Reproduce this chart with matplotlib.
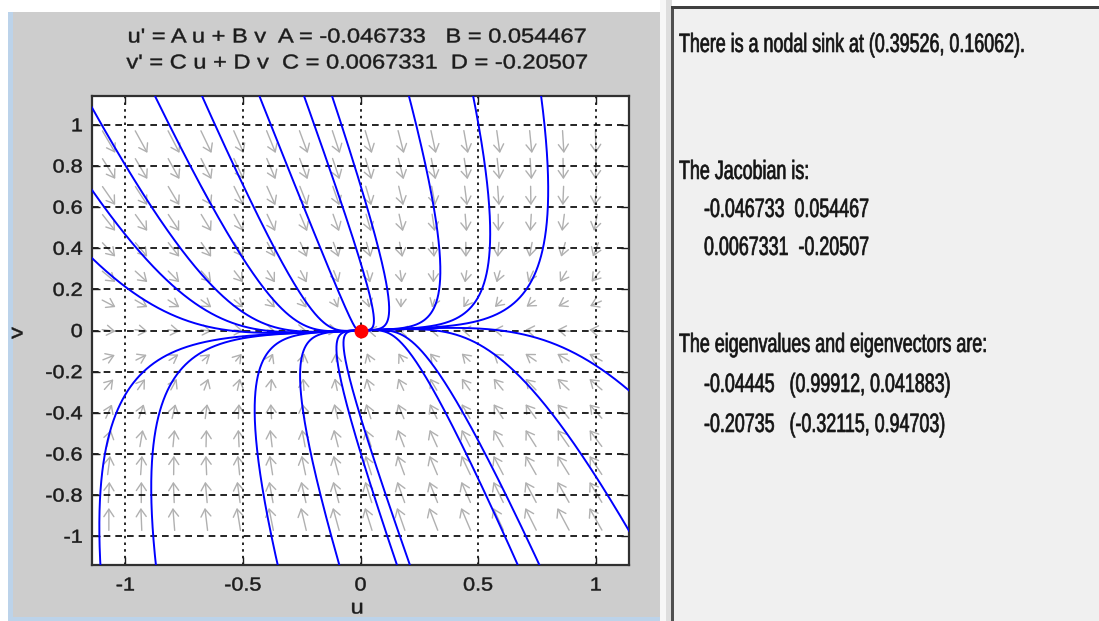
import numpy as np
import matplotlib.pyplot as plt
from matplotlib.patches import Rectangle, FancyArrowPatch
from matplotlib.patheffects import AbstractPathEffect
from matplotlib.transforms import Affine2D

# linear system u' = A u + B v, v' = C u + D v
A, B, C, D = -0.046733, 0.054467, 0.0067331, -0.20507

# points on the window edge where the drawn solution curves enter
top_u = [-0.874, -0.674, -0.43, -0.24, -0.121, 0.206, 0.479, 0.768]
left_v = [1.08, 0.68, 0.35]
bottom_u = [-1.106, -0.87, -0.352, -0.09, 0.155, 0.21, 0.669, 0.761]
right_v = [-0.29, -0.97]

xticks = [-1, -0.5, 0, 0.5, 1]
yticks = [-1, -0.8, -0.6, -0.4, -0.2, 0, 0.2, 0.4, 0.6, 0.8, 1]
lim = 1.14

title_lines = ["u' = A u + B v  A = -0.046733   B = 0.054467",
               "v' = C u + D v  C = 0.0067331  D = -0.20507"]
sink_text = "There is a nodal sink at (0.39526, 0.16062)."
jac_rows = ["-0.046733  0.054467", "0.0067331  -0.20507"]
eig_rows = ["-0.04445   (0.99912, 0.041883)",
            "-0.20735   (-0.32115, 0.94703)"]


class Stretch(AbstractPathEffect):
    """Scale glyph outlines about a pivot and thicken them a little."""

    def __init__(self, sx, sy=1.0, pivot=0.0, stroke=0.0):
        super().__init__()
        self.sx, self.sy, self.pivot, self.stroke = sx, sy, pivot, stroke

    def draw_path(self, renderer, gc, tpath, affine, rgbFace=None):
        x0 = self.pivot * tpath.get_extents().x1 if self.pivot else 0.0
        y0 = 35.0  # about mid cap height, glyph paths use 100 units per em
        tr = (Affine2D().translate(-x0, -y0).scale(self.sx, self.sy)
              .translate(x0, y0) + affine)
        gc0 = renderer.new_gc()
        gc0.copy_properties(gc)
        if self.stroke:
            gc0.set_linewidth(self.stroke)
            gc0.set_foreground(rgbFace)
        renderer.draw_path(gc0, tpath, tr, rgbFace)
        gc0.restore()


W, H = 1099, 621
fig = plt.figure(figsize=(W / 100, H / 100), dpi=100)
plt.rcParams['font.family'] = ['Liberation Sans', 'DejaVu Sans']


def px(x, y):
    return x / W, 1 - y / H


def box(x0, y0, x1, y1, color):
    fig.add_artist(Rectangle(px(x0, y1), (x1 - x0) / W, (y1 - y0) / H,
                             transform=fig.transFigure, facecolor=color,
                             edgecolor='none', zorder=-1))


# window backgrounds
box(8, 12, 660, 621, '#bcd3ea')
box(13, 12, 660, 617, '#cdcdcd')
box(660, 0, 666, 621, '#f7f7f7')
box(666, 0, 672, 621, '#dedede')
box(672, 7, 1099, 621, '#f0f0f0')
box(671, 7, 674, 621, '#505050')
box(671, 6, 1099, 9, '#404040')

ax = fig.add_axes([92.4 / W, 1 - 565 / H, (628.6 - 92.4) / W, (565 - 96) / H])
ax.set_facecolor('white')
ax.set_xlim(-lim, lim)
ax.set_ylim(-lim, lim)

# direction field
J = np.array([[A, B], [C, D]])
gu, gv = np.meshgrid(np.linspace(-1.07, 1.0, 16), np.linspace(-0.917, 0.917, 15))
fu = A * gu + B * gv
fv = C * gu + D * gv
mag = np.hypot(fu, fv)
scale = 0.12 * np.sqrt(mag / mag.max())
du = fu / mag * scale
dv = fv / mag * scale
for x, y, a, b in zip(gu.ravel(), gv.ravel(), du.ravel(), dv.ravel()):
    ax.add_patch(FancyArrowPatch((x - a / 2, y - b / 2), (x + a / 2, y + b / 2),
                                 arrowstyle='->,head_length=0.45,head_width=0.3',
                                 mutation_scale=12, color='#b0b0b0', lw=1.0,
                                 shrinkA=0, shrinkB=0, zorder=1))

# solution curves from the exact solution of the linear system
lam, vec = np.linalg.eig(J)
vinv = np.linalg.inv(vec)
t = np.concatenate([np.linspace(-4, 0, 200), np.geomspace(0.01, 300, 2500)])
seeds = ([(u, lim) for u in top_u] + [(-lim, v) for v in left_v]
         + [(u, -lim) for u in bottom_u] + [(lim, v) for v in right_v])
for p in seeds:
    c = vinv @ np.array(p)
    sol = vec @ (c[:, None] * np.exp(lam[:, None] * t[None, :]))
    ax.plot(sol[0].real, sol[1].real, color='#0000ff', lw=1.4, zorder=3)

ax.plot([0], [0], 'o', color='#ff0000', ms=9, zorder=4)

ax.set_xticks(xticks)
ax.set_xticklabels([f'{v:g}' for v in xticks])
ax.set_yticks(yticks)
ax.set_yticklabels([f'{v:g}' for v in yticks])
ax.tick_params(direction='in', length=6, width=1, top=True, right=True,
               labelsize=13.5, colors='#1c1c1c', pad=7)
ax.tick_params(axis='x', pad=9)
for lab in ax.get_xticklabels():
    lab.set_path_effects([Stretch(1.15, 1.0, 0.5, 0.35)])
for lab in ax.get_yticklabels():
    lab.set_path_effects([Stretch(1.15, 1.0, 1.0, 0.35)])
ax.xaxis.grid(True, color='black', lw=1.2, linestyle=(0, (1.5, 2.5)))
ax.yaxis.grid(True, color='black', lw=1.2, linestyle=(0, (4, 3)))
for s in ax.spines.values():
    s.set_linewidth(1.6)
    s.set_color('#303030')

lkw = dict(ha='center', va='center', fontsize=14.5, color='#1c1c1c')
titles = [fig.text(*px(357, 37), title_lines[0], **lkw),
          fig.text(*px(357, 63), title_lines[1], **lkw)]
axis_labels = [fig.text(*px(357, 608), 'u', **lkw),
               fig.text(*px(17, 333), 'v', rotation=90, **lkw)]

# text panel: set small, then drawn taller and narrower
panel_size = 14
tkw = dict(va='center', fontsize=panel_size, color='#141414')
panel = [fig.text(*px(679, 45), sink_text, **tkw),
         fig.text(*px(679, 172), 'The Jacobian is:', **tkw),
         fig.text(*px(704, 210), jac_rows[0], **tkw),
         fig.text(*px(704, 248), jac_rows[1], **tkw),
         fig.text(*px(679, 345), 'The eigenvalues and eigenvectors are:', **tkw),
         fig.text(*px(704, 385), eig_rows[0], **tkw),
         fig.text(*px(704, 425), eig_rows[1], **tkw)]

# scale factors so the lines span their intended widths
r = fig.canvas.get_renderer()
sx_title = 459 / titles[0].get_window_extent(r).width
sx_panel = 348 / panel[0].get_window_extent(r).width
for tx in titles + axis_labels:
    tx.set_path_effects([Stretch(sx_title, 1.0, 0.5, 0.3)])
for tx in panel:
    tx.set_path_effects([Stretch(sx_panel, 19 / panel_size, 0.0, 0.5)])

fig.savefig('out.png', dpi=100)
